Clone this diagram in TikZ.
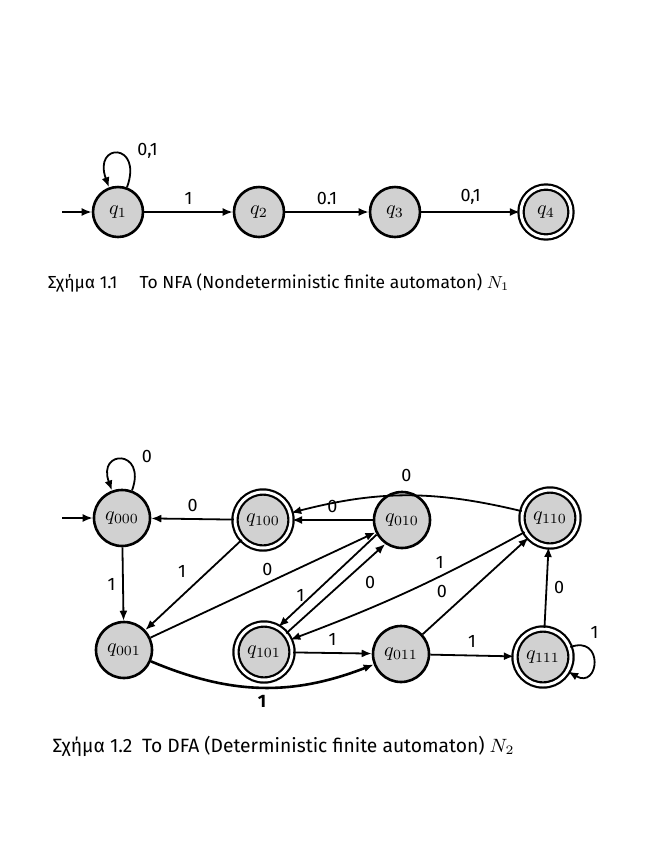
\documentclass[tikz,border=0pt]{standalone}
\usepackage{fontspec}
\setmainfont{Fira Sans}
\usepackage{tikz}
\usetikzlibrary{arrows.meta,positioning}

\begin{document}
\begin{tikzpicture}[
  x=0.5pt, y=0.5pt,
  st/.style={draw,circle,line width=1.3pt,fill=black!18,minimum size=25pt,inner sep=0pt},
  dst/.style={st,minimum size=28pt},
  acc/.style={double,double distance=1.5pt,line width=1.1pt},
  arr/.style={-{Latex[length=5pt,width=4pt]},line width=0.9pt},
  lbl/.style={font=\small},
  figcap/.style={anchor=west,font=\small}
]
  \useasboundingbox (0,0) rectangle (650,-864);

  \node[st] (q1) at (118,-212) {$q_1$};
  \node[st] (q2) at (259,-212) {$q_2$};
  \node[st] (q3) at (395,-212) {$q_3$};
  \node[st,acc] (q4) at (546,-212) {$q_4$};
  \coordinate (s1) at (62,-212);

  \draw[arr] (s1) -- (q1);
  \draw[arr] (q1) to[loop,out=70,in=110,min distance=24pt] node[lbl,above right,pos=0.2]{0,1} (q1);
  \draw[arr] (q1) -- node[lbl,above]{1} (q2);
  \draw[arr] (q2) -- node[lbl,above]{0.1} (q3);
  \draw[arr] (q3) -- node[lbl,above]{0,1} (q4);

  \node[figcap,scale=0.97] (cap1) at (41,-283) {Σχήμα 1.1\quad\ Το NFA (Nondeterministic finite automaton) $N_1$};

  \node[dst] (q000) at (122,-518) {$q_{000}$};
  \node[dst,acc] (q100) at (263,-520) {$q_{100}$};
  \node[dst] (q010) at (402,-520) {$q_{010}$};
  \node[dst,acc] (q110) at (550,-518) {$q_{110}$};
  \node[dst] (q001) at (124,-650) {$q_{001}$};
  \node[dst,acc] (q101) at (264,-652) {$q_{101}$};
  \node[dst] (q011) at (401,-654) {$q_{011}$};
  \node[dst,acc] (q111) at (543,-657) {$q_{111}$};
  \coordinate (s2) at (62,-518);

  \draw[arr] (s2) -- (q000);
  \draw[arr] (q000) to[loop,out=70,in=110,min distance=22pt] node[lbl,above right,pos=0.2]{0} (q000);
  \draw[arr] (q000) -- node[lbl,left]{1} (q001);
  \draw[arr] (q100) -- node[lbl,above]{0} (q000);
  \draw[arr] (q100) -- node[lbl,above left,pos=0.5]{1} (q001);
  \draw[arr] (q010) -- node[lbl,above]{0} (q100);
  \draw[arr] (q001) -- node[lbl,above,pos=0.52]{0} (q010);
  \draw[arr] (q010.210) -- node[lbl,left,pos=0.66]{1} (q101.60);
  \draw[arr] (q101.40) -- node[lbl,below right,pos=0.72]{0} (q010.235);
  \draw[arr] (q110) to[bend right=14] node[lbl,above=3pt]{0} (q100);
  \draw[arr] (q110) to[bend left=4] node[lbl,above,pos=0.36]{1} (q101.25);
  \draw[arr] (q011) -- node[lbl,above left,pos=0.3]{0} (q110);
  \draw[arr] (q101) -- node[lbl,above]{1} (q011);
  \draw[arr] (q011) -- node[lbl,above]{1} (q111);
  \draw[arr] (q111) -- node[lbl,right]{0} (q110);
  \draw[arr] (q111) to[loop,out=20,in=-30,min distance=18pt] node[lbl,above right,pos=0.15]{1} (q111);
  \draw[arr,line width=1.3pt] (q001) to[bend right=22] node[lbl,below]{\textbf{1}} (q011);

  \node[figcap,scale=1.07] (cap2) at (45,-746) {Σχήμα 1.2\enspace Το DFA (Deterministic finite automaton) $N_2$};
\end{tikzpicture}
\end{document}
